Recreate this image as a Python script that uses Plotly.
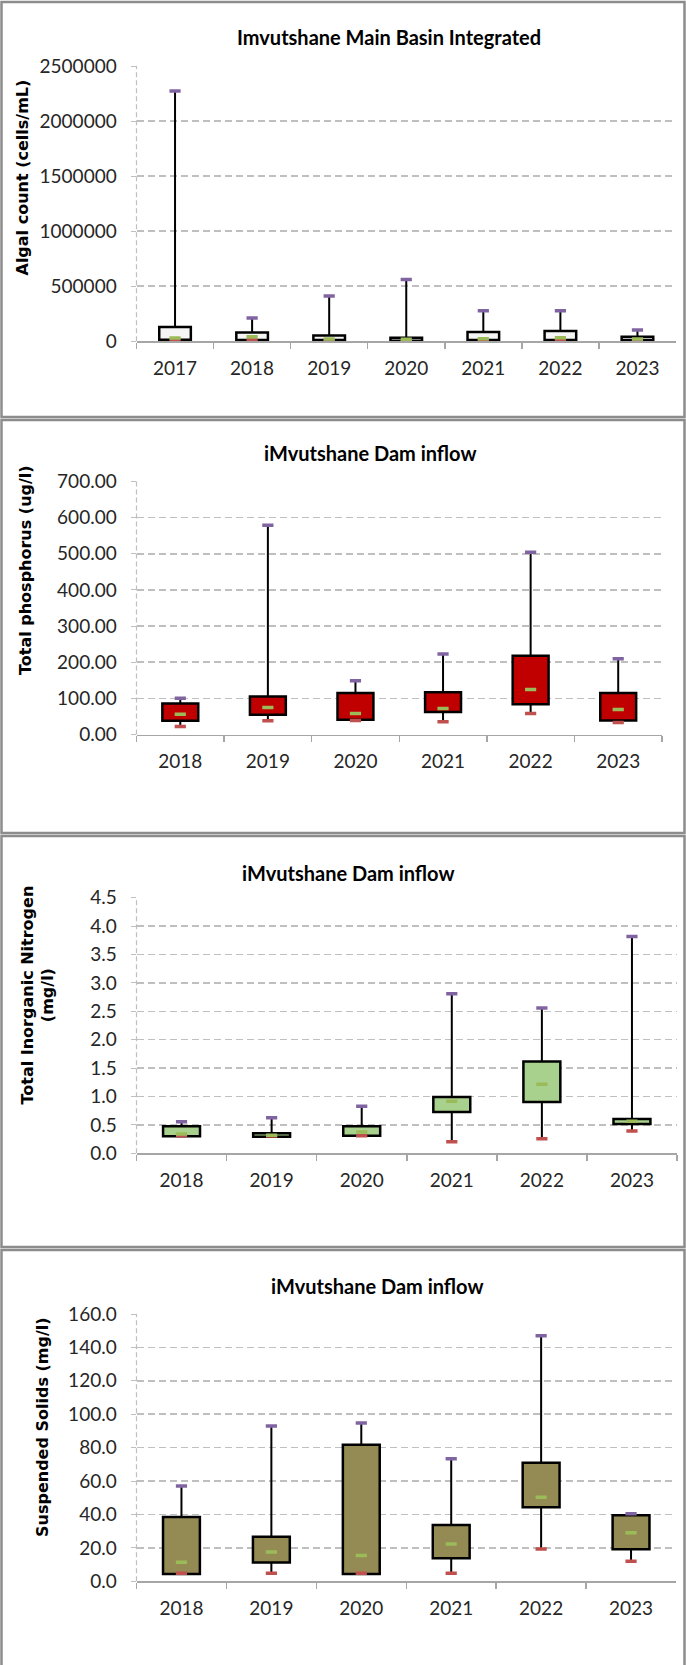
import plotly.graph_objects as go

W, H = 686, 1665

# ---------------- data ----------------
algal_years = ["2017", "2018", "2019", "2020", "2021", "2022", "2023"]
algal_min = [12000, 12000, 5000, 3000, 8000, 8000, 8000]
algal_q1 = [15000, 12000, 12000, 5000, 12000, 12000, 12000]
algal_median = [30000, 42000, 22000, 18000, 24000, 33000, 21000]
algal_q3 = [130000, 79000, 52000, 33000, 84000, 93000, 42000]
algal_max = [2273000, 212000, 411000, 562000, 278000, 278000, 103000]

tp_years = ["2018", "2019", "2020", "2021", "2022", "2023"]
tp_min = [22, 38, 39, 35, 58, 33]
tp_q1 = [38, 54.5, 40.6, 62, 84, 38.8]
tp_median = [56, 75, 58, 72, 124.7, 69]
tp_q3 = [86, 105, 114.5, 117, 218, 114.5]
tp_max = [100.6, 579, 148.7, 222.5, 504, 209.6]

tin_years = ["2018", "2019", "2020", "2021", "2022", "2023"]
tin_min = [0.31, 0.305, 0.31, 0.205, 0.258, 0.393]
tin_q1 = [0.30, 0.293, 0.311, 0.728, 0.904, 0.516]
tin_median = [0.34, 0.317, 0.376, 0.915, 1.215, 0.563]
tin_q3 = [0.475, 0.352, 0.475, 0.99, 1.614, 0.604]
tin_max = [0.557, 0.628, 0.827, 2.81, 2.56, 3.815]

ss_years = ["2018", "2019", "2020", "2021", "2022", "2023"]
ss_min = [4.8, 4.8, 4.8, 4.8, 19.4, 12.0]
ss_q1 = [4.4, 11.2, 4.4, 13.8, 44.3, 19.2]
ss_median = [11.4, 17.6, 15.4, 22.3, 50.3, 29.1]
ss_q3 = [38.5, 26.7, 81.8, 33.7, 71.0, 39.5]
ss_max = [57.0, 93.0, 94.8, 73.4, 147.0, 40.5]

titles = ["Imvutshane Main Basin Integrated", "iMvutshane Dam inflow",
          "iMvutshane Dam inflow", "iMvutshane Dam inflow"]
ytitles = ["Algal count (cells/mL)", "Total phosphorus (ug/l)",
           "Total Inorganic Nitrogen<br>(mg/l)", "Suspended Solids (mg/l)"]

# ---------------- layout geometry (pixels) ----------------
panels = [
    dict(years=algal_years, mn=algal_min, q1=algal_q1, md=algal_median, q3=algal_q3, mx=algal_max,
         fill="#F5F5F5", x0=136.5, x1=676, ytop=66, ybot=341.3, rng=[0, 2500000], dtick=500000,
         fmt="d", frame=(2, 417), title_xy=(389.5, 37), ytitle_xy=(22, 177.5)),
    dict(years=tp_years, mn=tp_min, q1=tp_q1, md=tp_median, q3=tp_q3, mx=tp_max,
         fill="#C00000", x0=136.5, x1=662, ytop=481.5, ybot=734.5, rng=[0, 700], dtick=100,
         fmt=".2f", frame=(420, 833), title_xy=(369.5, 453), ytitle_xy=(25, 570)),
    dict(years=tin_years, mn=tin_min, q1=tin_q1, md=tin_median, q3=tin_q3, mx=tin_max,
         fill="#A9D18E", x0=136.5, x1=677, ytop=897.7, ybot=1153.3, rng=[0, 4.5], dtick=0.5,
         fmt=".1f", frame=(836, 1247), title_xy=(348, 873), ytitle_xy=(37.5, 995)),
    dict(years=ss_years, mn=ss_min, q1=ss_q1, md=ss_median, q3=ss_q3, mx=ss_max,
         fill="#948A54", x0=136.5, x1=676, ytop=1314, ybot=1581.3, rng=[0, 160], dtick=20,
         fmt=".1f", frame=(1250, 1672), title_xy=(377, 1286), ytitle_xy=(42, 1427)),
]

fig = go.Figure()
shapes = []
annotations = []

TICK_FONT = dict(family="Lato", size=19, color="#262626")
GRID = "#BFBFBF"
AXIS = "#A6A6A6"

for i, p in enumerate(panels):
    n = "" if i == 0 else str(i + 1)
    xa, ya = "x" + n, "y" + n
    # whiskers
    wx, wy = [], []
    for yr, lo, a, b, hi in zip(p["years"], p["mn"], p["q1"], p["q3"], p["mx"]):
        wx += [yr, yr, None, yr, yr, None]
        wy += [b, hi, None, lo, a, None]
    fig.add_trace(go.Scatter(x=wx, y=wy, mode="lines", line=dict(color="black", width=2),
                             xaxis=xa, yaxis=ya, hoverinfo="skip"))
    # boxes
    fig.add_trace(go.Bar(x=p["years"], y=[b - a for a, b in zip(p["q1"], p["q3"])], base=p["q1"],
                         width=0.41, marker=dict(color=p["fill"], line=dict(color="black", width=2.5)),
                         xaxis=xa, yaxis=ya))
    # markers: max, min, median
    for vals, col in ((p["mx"], "#8064A2"), (p["mn"], "#C0504D"), (p["md"], "#9BBB59")):
        fig.add_trace(go.Scatter(x=p["years"], y=vals, mode="markers",
                                 marker=dict(symbol="line-ew", size=8,
                                             line=dict(color=col, width=3.5)),
                                 xaxis=xa, yaxis=ya))

    xdom = [p["x0"] / W, p["x1"] / W]
    ydom = [1 - p["ybot"] / H, 1 - p["ytop"] / H]
    fig.layout["xaxis" + n] = dict(
        domain=xdom, anchor=ya, type="category", tickson="boundaries",
        showline=True, linecolor=AXIS, linewidth=1.5, ticks="outside", ticklen=6,
        tickcolor=AXIS, tickwidth=1.5, tickfont=TICK_FONT, showgrid=False,
        ticklabelstandoff=9, fixedrange=True, automargin=False)
    fig.layout["yaxis" + n] = dict(
        domain=ydom, anchor=xa, range=p["rng"], dtick=p["dtick"], tick0=0,
        tickformat=p["fmt"], showgrid=True, gridcolor=GRID, gridwidth=1.5,
        griddash="7px,4px", zeroline=False, showline=False, ticks="outside",
        ticklen=5, tickcolor=GRID, tickwidth=1, tickfont=TICK_FONT,
        ticklabelstandoff=10, fixedrange=True, automargin=False)
    # dashed vertical y axis line
    shapes.append(dict(type="line", xref=xa + " domain", yref=ya + " domain",
                       x0=0, x1=0, y0=0, y1=1, line=dict(color=GRID, width=1.2, dash="5px,3px")))
    # panel frame
    f0, f1 = p["frame"]
    shapes.append(dict(type="rect", xref="paper", yref="paper",
                       x0=1.5 / W, x1=684.5 / W, y0=1 - f1 / H, y1=1 - f0 / H,
                       line=dict(color="#8C8C8C", width=2.5), layer="below"))
    tx, ty = p["title_xy"]
    annotations.append(dict(text=titles[i], x=tx / W, y=1 - ty / H, xref="paper", yref="paper",
                            xanchor="center", yanchor="middle", showarrow=False,
                            font=dict(family="Lato", size=20, color="#000000", weight="bold")))
    yx, yy = p["ytitle_xy"]
    annotations.append(dict(text=ytitles[i], x=yx / W, y=1 - yy / H, xref="paper", yref="paper",
                            xanchor="center", yanchor="middle", showarrow=False, textangle=-90,
                            font=dict(family="DejaVu Sans", size=16, color="#000000", weight="bold")))

fig.update_layout(width=W, height=H,
                  margin=dict(l=0, r=0, t=0, b=0, pad=0, autoexpand=False),
                  paper_bgcolor="white", plot_bgcolor="white", showlegend=False,
                  bargap=0, shapes=shapes, annotations=annotations)

post = (
    "document.documentElement.style.margin='0';"
    "document.body.style.margin='0';"
    "document.body.style.overflow='hidden';"
)
fig.write_html("out.html", config={"displayModeBar": False, "staticPlot": True},
               post_script=post)
